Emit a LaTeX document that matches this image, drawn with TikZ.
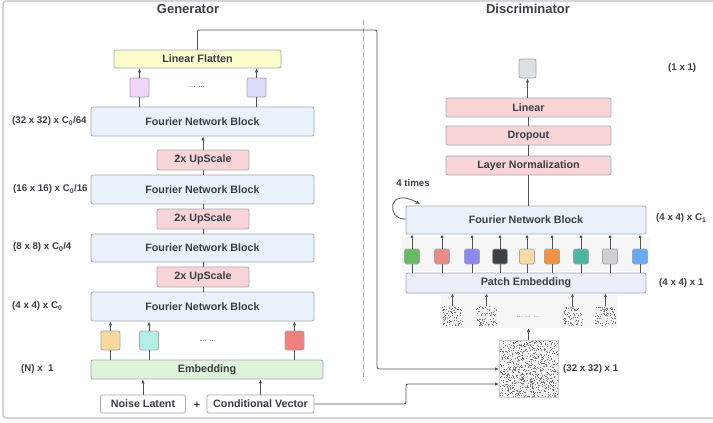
\documentclass[tikz,border=0pt]{standalone}
\usepackage{fontspec}
\setmainfont{Liberation Sans}
\usetikzlibrary{arrows.meta}
\definecolor{txt}{HTML}{3A3F47}
\definecolor{boxline}{HTML}{A3A8AF}
\definecolor{lc}{HTML}{4F545A}
\definecolor{fnbfill}{HTML}{EAF2FC}
\definecolor{upfill}{HTML}{F9D5D8}
\definecolor{lffill}{HTML}{FCFCCD}
\definecolor{embfill}{HTML}{DFF4DB}
\definecolor{pefill}{HTML}{ECEEFA}
\definecolor{bgpanel}{HTML}{F6F6F6}
\tikzset{
 box/.style={draw=boxline, rounded corners=2pt, line width=0.8pt, inner sep=0pt, font=\bfseries\fontsize{10.7}{12}\selectfont, text=txt},
 sq/.style={draw=boxline, rounded corners=2pt, line width=0.8pt, minimum width=19pt, minimum height=19pt, inner sep=0pt},
 dsq/.style={draw=boxline, rounded corners=2pt, line width=0.6pt, minimum width=15pt, minimum height=15pt, inner sep=0pt},
 lbl/.style={font=\bfseries\fontsize{9.7}{11}\selectfont, text=txt, inner sep=0pt},
 ttl/.style={font=\bfseries\fontsize{13}{15}\selectfont, text=txt, inner sep=0pt},
 conn/.style={draw=lc, line width=0.8pt},
 arr/.style={conn, -{Latex[length=4pt,width=3.5pt]}},
}
\begin{document}
\begin{tikzpicture}[x=1pt,y=-1pt]
\useasboundingbox (0,0) rectangle (713,423);
% outer frame
\draw[draw=black!25, line width=1.2pt, rounded corners=3pt] (3,1) rectangle (730,418);
% divider
\draw[draw=black!35, line width=0.7pt, dash pattern=on 5pt off 3pt] (363,20) -- (363,381);
% titles
\node[ttl] (tg) at (188,9) {Generator};
\node[ttl] (td) at (528,9) {Discriminator};

% ---------------- Generator ----------------
\node[box, fill=lffill, minimum width=167pt, minimum height=18pt] (lf) at (197.5,59) {Linear Flatten};
\node[sq, fill={rgb,255:red,240;green,214;blue,250}] (gp1) at (139.5,87.5) {};
\node[sq, fill={rgb,255:red,220;green,220;blue,250}] (gp2) at (256.5,87.5) {};
\node[lbl, font=\fontsize{8}{9}\selectfont] (gd1) at (197,87) {... ...};
\node[box, fill=fnbfill, minimum width=223pt, minimum height=29pt] (f32) at (202.5,121.5) {Fourier Network Block};
\node[box, fill=upfill, minimum width=92pt, minimum height=20pt] (u3) at (203,160) {2x UpScale};
\node[box, fill=fnbfill, minimum width=223pt, minimum height=29pt] (f16) at (202.5,189.5) {Fourier Network Block};
\node[box, fill=upfill, minimum width=92pt, minimum height=20pt] (u2) at (203,219) {2x UpScale};
\node[box, fill=fnbfill, minimum width=223pt, minimum height=28pt] (f8) at (202.5,248) {Fourier Network Block};
\node[box, fill=upfill, minimum width=92pt, minimum height=20pt] (u1) at (203,277) {2x UpScale};
\node[box, fill=fnbfill, minimum width=223pt, minimum height=29pt] (f4) at (202.5,306.5) {Fourier Network Block};
\node[sq, fill={rgb,255:red,249;green,217;blue,158}] (gs1) at (110.5,340.5) {};
\node[sq, fill={rgb,255:red,180;green,240;blue,230}] (gs2) at (149,340.5) {};
\node[sq, fill={rgb,255:red,240;green,128;blue,128}] (gs3) at (294.5,340.5) {};
\node[lbl, font=\fontsize{8}{9}\selectfont] (gd2) at (208,341) {... ...};
\node[box, fill=embfill, minimum width=232pt, minimum height=19pt] (emb) at (207,369.5) {Embedding};
\node[box, fill=white, minimum width=85pt, minimum height=18pt] (nl) at (143,404) {Noise Latent};
\node[lbl, font=\bfseries\fontsize{10.7}{12}\selectfont] (plus) at (197,405) {+};
\node[box, fill=white, minimum width=107pt, minimum height=18pt] (cv) at (260.5,404) {Conditional Vector};

% labels
\node[lbl, anchor=west] (l32) at (12,121) {(32 x 32) x C\textsubscript{0}/64};
\node[lbl, anchor=west] (l16) at (13,189) {(16 x 16) x C\textsubscript{0}/16};
\node[lbl, anchor=west] (l8) at (13,247) {(8 x 8) x C\textsubscript{0}/4};
\node[lbl, anchor=west] (l4) at (12,306) {(4 x 4) x C\textsubscript{0}};
\node[lbl, anchor=west] (lN) at (21,369) {(N) x\ \ 1};

% generator connectors
\draw[arr] (nl.north) -- (emb.south -| nl.north);
\draw[arr] (cv.north) -- (emb.south -| cv.north);
\foreach \s in {gs1,gs2,gs3}{
  \draw[conn] (emb.north -| \s.south) -- (\s.south);
  \draw[arr] (\s.north) -- (f4.south -| \s.north);
}
\draw[conn] (f4.north -| u1.south) -- (u1.south);
\draw[conn] (u1.north) -- (f8.south -| u1.north);
\draw[conn] (f8.north -| u2.south) -- (u2.south);
\draw[conn] (u2.north) -- (f16.south -| u2.north);
\draw[conn] (f16.north -| u3.south) -- (u3.south);
\draw[arr] (u3.north) -- (f32.south -| u3.north);
\foreach \s in {gp1,gp2}{
  \draw[conn] (f32.north -| \s.south) -- (\s.south);
  \draw[arr] (\s.north) -- (lf.south -| \s.north);
}

% ---------------- Discriminator ----------------
\node[sq, fill={rgb,255:red,220;green,223;blue,227}, minimum width=17pt] (out) at (527.5,68.5) {};
\node[lbl, anchor=west] (l11) at (668,68) {(1 x 1)};
\node[box, fill=upfill, minimum width=165pt, minimum height=19pt] (lin) at (528.5,107.5) {Linear};
\node[box, fill=upfill, minimum width=165pt, minimum height=19pt] (drop) at (528.5,135.5) {Dropout};
\node[box, fill=upfill, minimum width=165pt, minimum height=19pt] (ln) at (528.5,165.5) {Layer Normalization};
\node[lbl] (times) at (413,183) {4 times};
\node[box, fill=fnbfill, minimum width=240pt, minimum height=28pt] (fd) at (526,220) {Fourier Network Block};
\node[lbl, anchor=west] (l4c) at (656,218) {(4 x 4) x C\textsubscript{1}};
\fill[bgpanel] (402,237) rectangle (650,271);
\node[box, fill=pefill, minimum width=240pt, minimum height=20pt] (pe) at (526,283) {Patch Embedding};
\node[lbl, anchor=west] (l41) at (659,283) {(4 x 4) x 1};

\foreach \n/\x/\c in {d1/412/66BB66, d2/442/EC8A86, d3/472/8A8AF0, d4/500/3C4148, d5/527/F9DAA2, d6/552/EE9440, d7/581/4DB8A2, d8/610/CDD0D4, d9/640/6AA8F4}{
  \definecolor{tmpc}{HTML}{\c}
  \node[dsq, fill=tmpc] (\n) at (\x,256.5) {};
  \draw[conn, line width=0.6pt] (pe.north -| \n.south) -- (\n.south);
  \draw[conn, line width=0.6pt, -{Latex[length=3.5pt,width=3pt]}] (\n.north) -- (fd.south -| \n.north);
}

% patches
\fill[bgpanel] (441,295) rectangle (617,328);
\pgfmathsetseed{7}
\foreach \n/\x in {p1/442,p2/476,p3/562,p4/595}{
  \coordinate (\n) at (\x+10.5,306);
  \fill[black!6] (\x,306) rectangle ++(21,20);
  \foreach \k in {1,...,80}{
    \pgfmathsetmacro\rx{\x+20.3*rnd}
    \pgfmathsetmacro\ry{306+19.3*rnd}
    \fill[black!50] (\rx,\ry) rectangle ++(0.6,0.6);
  }
  \draw[conn, line width=0.6pt, -{Latex[length=3.5pt,width=3pt]}] (\n) -- (pe.south -| \n);
}
\node[lbl, font=\fontsize{7}{8}\selectfont, text=black!45] (pd) at (528,317) {... ... ...};

% big noise image
\coordinate (bigtop) at (528.5,340);
\coordinate (bigl1) at (499,369);
\coordinate (bigl2) at (499,384);
\fill[black!6] (499,340) rectangle (558,397);
\foreach \k in {1,...,750}{
  \pgfmathsetmacro\rx{499+58.4*rnd}
  \pgfmathsetmacro\ry{340+56.4*rnd}
  \fill[black!52] (\rx,\ry) rectangle ++(0.6,0.6);
}
\draw[black!20, line width=0.4pt] (499,340) rectangle (558,397);
\node[lbl, anchor=west] (l32b) at (563,369) {(32 x 32) x 1};
\coordinate (patchbot) at (528.5,328);
\draw[arr] (bigtop) -- (patchbot);

% discriminator connectors
\draw[conn] (fd.north -| ln.south) -- (ln.south);
\draw[conn] (ln.north) -- (drop.south);
\draw[conn] (drop.north) -- (lin.south);
\draw[arr] (lin.north -| out.south) -- (out.south);
% loop
\draw[conn, -{Latex[length=4pt,width=3.5pt]}] (fd.west |- 0,219) .. controls (386,220) and (387,186) .. (420,204);

% cross connectors
\draw[arr, rounded corners=2pt] (lf.north) -- (197.5,30) -- (377,30) -- (377,369) -- (bigl1);
\draw[arr, rounded corners=2pt] (cv.east) -- (406,404) -- (406,384) -- (bigl2);
\end{tikzpicture}
\end{document}
